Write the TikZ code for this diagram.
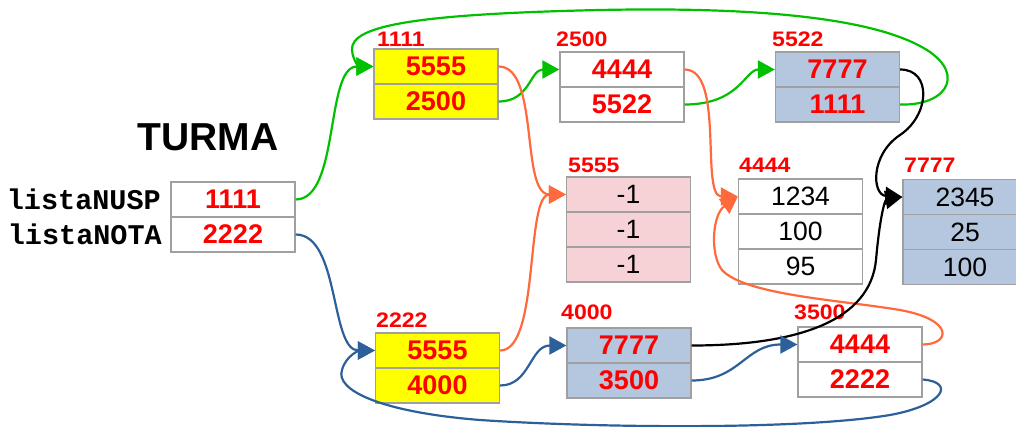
\documentclass[tikz,border=0pt]{standalone}
\usepackage{fontspec}
\setmainfont{Liberation Sans}
\newfontfamily\monof{Liberation Mono}
\usetikzlibrary{arrows.meta}
\definecolor{cellborder}{RGB}{160,160,160}
\definecolor{bluegray}{RGB}{180,199,222}
\definecolor{pinkc}{RGB}{246,210,214}
\definecolor{yelc}{RGB}{255,255,0}
\definecolor{greenl}{RGB}{0,192,0}
\definecolor{orangel}{RGB}{255,105,60}
\definecolor{bluel}{RGB}{45,95,155}
\definecolor{redt}{RGB}{255,0,0}
\tikzset{
  cell/.style={draw=cellborder, line width=1.3pt, minimum width=124pt, minimum height=35pt,
    inner sep=0pt, fill=white, text=redt, font=\fontsize{27}{30}\selectfont\bfseries},
  yel/.style={cell, fill=yelc},
  blu/.style={cell, fill=bluegray},
  pnk/.style={cell, fill=pinkc},
  val/.style={text=black, font=\fontsize{26.5}{30}\selectfont},
  addr/.style={anchor=south west, inner sep=0pt, text=redt, font=\fontsize{21}{22}\selectfont\bfseries},
  vname/.style={anchor=east, inner sep=0pt, font=\monof\bfseries\fontsize{28.5}{30}\selectfont},
  link/.style={line width=2.2pt, -{Triangle[length=17pt,width=18pt]}},
}
\begin{document}
\begin{tikzpicture}[x=1pt,y=-1pt]
\useasboundingbox (0,0) rectangle (1016,427);
\clip (0,0) rectangle (1016,427);

% TURMA
\node[font=\fontsize{39}{42}\selectfont\bfseries, inner sep=0pt] (turma) at (208,137) {TURMA};
\node[vname] (nnusp) at (161,199.5) {listaNUSP};
\node[vname] (nnota) at (162,234.5) {listaNOTA};
\node[cell] (T1) at (233,199.5) {1111};
\node[cell] (T2) at (233,234.5) {2222};

% top row
\node[yel] (A1) at (436,66.5) {5555};
\node[yel] (A2) at (436,101.5) {2500};
\node[addr] (la) at (377,47) {\scalebox{1.1}[1]{1111}};

\node[cell] (B1) at (622,69.5) {4444};
\node[cell] (B2) at (622,104.5) {5522};
\node[addr] (lb) at (556,46.5) {\scalebox{1.1}[1]{2500}};

\node[blu] (C1) at (837.5,69.5) {7777};
\node[blu] (C2) at (837.5,104.5) {1111};
\node[addr] (lc) at (772,46.5) {\scalebox{1.1}[1]{5522}};

% middle row
\node[pnk, val] (D1) at (628.5,194.5) {-1};
\node[pnk, val] (D2) at (628.5,229.5) {-1};
\node[pnk, val] (D3) at (628.5,264.5) {-1};
\node[addr] (ld) at (568,173) {\scalebox{1.1}[1]{5555}};

\node[cell, val] (E1) at (800.5,196.5) {1234};
\node[cell, val] (E2) at (800.5,231.5) {100};
\node[cell, val] (E3) at (800.5,266.5) {95};
\node[addr] (le) at (739,173) {\scalebox{1.1}[1]{4444}};

\node[blu, val] (F1) at (965,197) {2345};
\node[blu, val] (F2) at (965,232) {25};
\node[blu, val] (F3) at (965,267) {100};
\node[addr] (lf) at (904,173) {\scalebox{1.1}[1]{7777}};

% bottom row
\node[yel] (G1) at (437.5,350.5) {5555};
\node[yel] (G2) at (437.5,385.5) {4000};
\node[addr] (lg) at (376,328) {\scalebox{1.1}[1]{2222}};

\node[blu] (H1) at (629,345.5) {7777};
\node[blu] (H2) at (629,380.5) {3500};
\node[addr] (lh) at (561,320) {\scalebox{1.1}[1]{4000}};

\node[cell] (I1) at (860,344.5) {4444};
\node[cell] (I2) at (860,379.5) {2222};
\node[addr] (li) at (794,320) {\scalebox{1.1}[1]{3500}};

% green links
\draw[link, greenl] (T1.east) .. controls (340,199.5) and (325,66.5) .. (A1.west);
\draw[link, greenl] (A2.east) .. controls (530,101.5) and (530,69.5) .. (B1.west);
\draw[link, greenl] (B2.east) .. controls (740,104.5) and (745,69.5) .. (C1.west);
\draw[link, greenl] (C2.east) .. controls (950,106) and (968,70) .. (918,45)
   .. controls (850,10) and (700,8) .. (600,10)
   .. controls (420,14) and (350,25) .. (352,50)
   .. controls (353,62) and (360,66.5) .. (A1.west);

% orange links
\draw[link, orangel] (A1.east) .. controls (540,66.5) and (520,194.5) .. (D1.west);
\draw[link, orangel] (G1.east) .. controls (540,350.5) and (525,194.5) .. (D1.west);
\draw[link, orangel] (B1.east) .. controls (725,69.5) and (700,196.5) .. (E1.west);
\draw[link, orangel] (I1.east) .. controls (950,344.5) and (955,320) .. (900,310)
   .. controls (840,300) and (745,295) .. (722,270)
   .. controls (710,255) and (712,215) .. (E1.west);

% black links
\draw[link, black] (C1.east) .. controls (932,69.5) and (930,115) .. (900,135)
   .. controls (870,155) and (872,195) .. (F1.west);
\draw[link, black] (H1.east) .. controls (800,345.5) and (870,320) .. (876,260)
   .. controls (880,215) and (885,200) .. (F1.west);

% blue links
\draw[link, bluel] (T2.east) .. controls (340,234.5) and (330,350.5) .. (G1.west);
\draw[link, bluel] (G2.east) .. controls (530,385.5) and (530,345.5) .. (H1.west);
\draw[link, bluel] (H2.east) .. controls (740,380.5) and (745,344.5) .. (I1.west);
\draw[link, bluel] (I2.east) .. controls (955,382) and (945,405) .. (890,415)
   .. controls (800,430) and (600,428) .. (480,420)
   .. controls (380,412) and (335,390) .. (342,370)
   .. controls (346,355) and (360,350.5) .. (G1.west);
\end{tikzpicture}
\end{document}
